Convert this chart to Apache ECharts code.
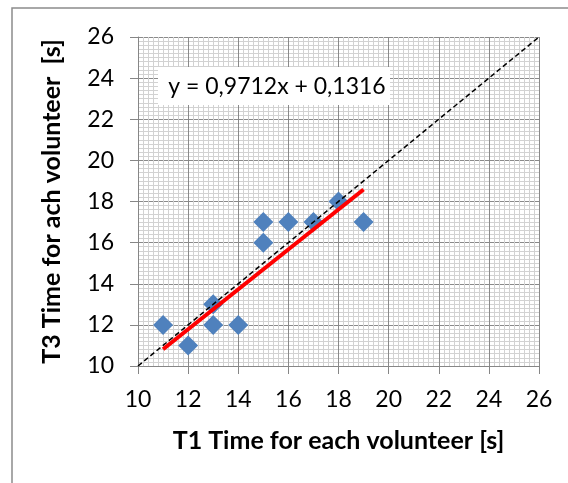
<!DOCTYPE html>
<html>
<head>
<meta charset="utf-8">
<script src="https://cdn.jsdelivr.net/npm/echarts@6/dist/echarts.min.js"></script>
<style>
  html, body { margin: 0; padding: 0; background: #fff; }
  #chart { width: 568px; height: 483px; }
</style>
</head>
<body>
<div id="chart"></div>
<script>
// T1 / T3 times per volunteer
const t1Times = [11, 12, 13, 13, 14, 15, 15, 16, 17, 18, 19]
const t3Times = [12, 11, 13, 12, 12, 17, 16, 17, 17, 18, 17]
// linear trend from the chart's equation
const slope = 0.9712
const intercept = 0.1316
const trendRange = [11, 19]
// y = x reference line
const identityRange = [10, 26]
const equationText = 'y = 0,9712x + 0,1316'

const fontFamily = 'Lato, "DejaVu Sans", sans-serif'

let myChart = echarts.init(document.getElementById('chart'))

const axisCommon = {
  type: 'value',
  min: 10,
  max: 26,
  interval: 2,
  nameLocation: 'middle',
  nameTextStyle: {
    color: '#000',
    fontFamily: fontFamily,
    fontSize: 25,
    fontWeight: 'bold'
  },
  axisLine: { show: true, lineStyle: { color: '#868686', width: 1 } },
  axisTick: { show: true, length: 8, lineStyle: { color: '#868686' } },
  axisLabel: { color: '#000', fontFamily: fontFamily, fontSize: 23 },
  splitLine: { show: true, lineStyle: { color: '#8a8a8a', width: 1 } },
  minorTick: { show: false, splitNumber: 10 },
  minorSplitLine: { show: true, lineStyle: { color: '#d2d2d2', width: 1 } }
}

const option = {
  animation: false,
  backgroundColor: '#fff',
  grid: { left: 138, top: 37, right: 29, bottom: 117 },
  xAxis: Object.assign({}, axisCommon, {
    name: 'T1 Time for each volunteer [s]',
    nameGap: 62,
    axisLabel: Object.assign({}, axisCommon.axisLabel, { margin: 22 })
  }),
  yAxis: Object.assign({}, axisCommon, {
    name: 'T3 Time for ach volunteer  [s]',
    nameGap: 74,
    axisLabel: Object.assign({}, axisCommon.axisLabel, { margin: 24 })
  }),
  graphic: [
    {
      type: 'rect',
      shape: { x: 12, y: 8, width: 600, height: 500 },
      style: { fill: 'none', stroke: '#8c8c8c', lineWidth: 1.5 },
      silent: true,
      z: 0
    },
    {
      type: 'rect',
      shape: { x: 158, y: 67, width: 232, height: 38 },
      style: { fill: '#fff' },
      z: 10
    },
    {
      type: 'text',
      x: 277,
      y: 87,
      style: {
        text: equationText,
        fill: '#000',
        fontFamily: fontFamily,
        fontSize: 23,
        align: 'center',
        verticalAlign: 'middle'
      },
      z: 11
    }
  ],
  series: [
    {
      type: 'scatter',
      symbol: 'diamond',
      symbolSize: 20,
      itemStyle: { color: '#4F81BD', opacity: 1 },
      data: t1Times.map((x, i) => [x, t3Times[i]]),
      z: 2
    },
    {
      type: 'line',
      symbol: 'none',
      lineStyle: { color: '#000', width: 1.5, type: [5, 3] },
      data: identityRange.map((x) => [x, x]),
      z: 3
    },
    {
      type: 'line',
      symbol: 'none',
      lineStyle: { color: '#FF0000', width: 4 },
      data: trendRange.map((x) => [x, slope * x + intercept]),
      z: 4
    }
  ]
}

myChart.setOption(option)
</script>
</body>
</html>
